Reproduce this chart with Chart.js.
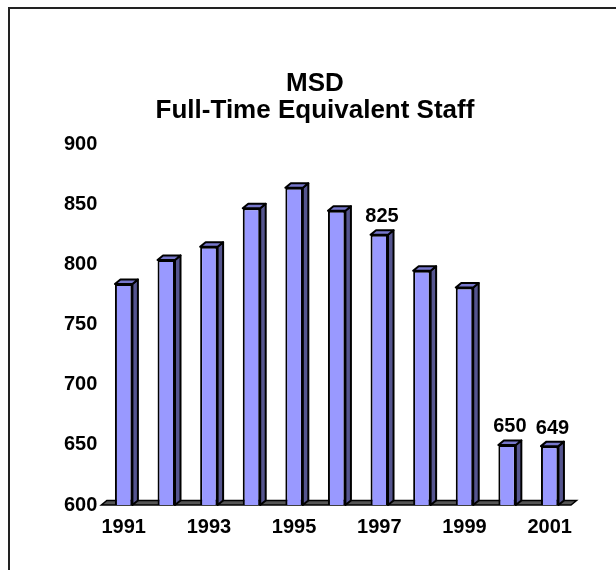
<!DOCTYPE html>
<html>
<head>
<meta charset="utf-8">
<script src="https://cdn.jsdelivr.net/npm/chart.js@4/dist/chart.umd.min.js"></script>
<style>
  html, body { margin: 0; padding: 0; background: #fff; overflow: hidden; }
  #frame {
    position: absolute; left: 8px; top: 7px;
    width: 700px; height: 700px;
    border: 2px solid #222;
  }
  #chart { position: absolute; left: 0; top: 0; }
</style>
</head>
<body>
<div id="frame"></div>
<canvas id="chart" width="616" height="570"></canvas>
<script>
// Данные графика
const years = ['1991', '1992', '1993', '1994', '1995', '1996', '1997', '1998', '1999', '2000', '2001'];
const staff = [784, 804, 815, 847, 864, 845, 825, 795, 781, 650, 649];
// подписи над столбцами (только у некоторых)
const valueLabels = [null, null, null, null, null, null, '825', null, null, '650', '649'];
const titleLines = ['MSD', 'Full-Time Equivalent Staff'];
const yMin = 600;
const yMax = 900;
const yStep = 50;

const fontFamily = "'Liberation Sans', Arial, sans-serif";
const depthX = 5.5;
const depthY = 4.5;

// Псевдо-3D: пол, боковые и верхние грани, подписи
const bar3d = {
    id: 'bar3d',
    beforeDatasetsDraw(chart) {
        const { ctx, chartArea, scales } = chart;
        const y0 = scales.y.getPixelForValue(yMin);
        const left = chartArea.left - 1;
        ctx.save();
        ctx.beginPath();
        ctx.moveTo(left, y0);
        ctx.lineTo(chartArea.right, y0);
        ctx.lineTo(chartArea.right + depthX, y0 - depthY);
        ctx.lineTo(left + depthX, y0 - depthY);
        ctx.closePath();
        ctx.fillStyle = '#555555';
        ctx.fill();
        ctx.lineWidth = 1.5;
        ctx.strokeStyle = '#000';
        ctx.stroke();
        ctx.restore();
    },
    afterDatasetsDraw(chart) {
        const { ctx, scales } = chart;
        const meta = chart.getDatasetMeta(0);
        // низ столбца = пол (значение yMin), а не ноль
        const base = scales.y.getPixelForValue(yMin);
        ctx.save();
        ctx.lineWidth = 2;
        ctx.strokeStyle = '#000';
        ctx.lineJoin = 'round';
        meta.data.forEach((bar, i) => {
            const { x, y, width } = bar.getProps(['x', 'y', 'width'], true);
            const l = x - width / 2;
            const r = x + width / 2;

            // боковая грань
            ctx.beginPath();
            ctx.moveTo(r, y);
            ctx.lineTo(r + depthX, y - depthY);
            ctx.lineTo(r + depthX, base - depthY);
            ctx.lineTo(r, base);
            ctx.closePath();
            ctx.fillStyle = '#55558f';
            ctx.fill();
            ctx.stroke();

            // верхняя грань
            ctx.beginPath();
            ctx.moveTo(l, y);
            ctx.lineTo(l + depthX, y - depthY);
            ctx.lineTo(r + depthX, y - depthY);
            ctx.lineTo(r, y);
            ctx.closePath();
            ctx.fillStyle = '#7777cc';
            ctx.fill();
            ctx.stroke();

            // подпись значения
            if (valueLabels[i]) {
                ctx.fillStyle = '#000';
                ctx.font = 'bold 20px ' + fontFamily;
                ctx.textAlign = 'center';
                ctx.textBaseline = 'alphabetic';
                ctx.fillText(valueLabels[i], x + depthX / 2, y - depthY - 8);
            }
        });
        ctx.restore();
    }
};

const ctxChart = document.getElementById('chart');

const myChart = new Chart(ctxChart, {
    type: 'bar',
    data: {
        labels: years,
        datasets: [
            {
                data: staff,
                backgroundColor: '#9999ff',
                borderColor: '#000',
                borderWidth: 2,
                borderSkipped: 'start',
                categoryPercentage: 1.0,
                barPercentage: 0.41
            }
        ]
    },
    options: {
        responsive: false,
        animation: false,
        events: [],
        layout: {
            padding: { left: 59, right: 45, top: 0, bottom: 21 }
        },
        plugins: {
            legend: { display: false },
            tooltip: { enabled: false },
            title: {
                display: true,
                text: titleLines,
                color: '#000',
                font: { family: fontFamily, size: 26, weight: 'bold', lineHeight: 1.05 },
                padding: { top: 70, bottom: 20 }
            }
        },
        scales: {
            x: {
                grid: { display: false, drawTicks: false },
                border: { display: false },
                ticks: {
                    color: '#000',
                    font: { family: fontFamily, size: 20, weight: 'bold' },
                    padding: 10,
                    autoSkip: false,
                    maxRotation: 0,
                    callback: function (val, index) {
                        return index % 2 === 0 ? years[index] : '';
                    }
                }
            },
            y: {
                min: yMin,
                max: yMax,
                grid: { display: false, drawTicks: false },
                border: { display: false },
                ticks: {
                    stepSize: yStep,
                    color: '#000',
                    font: { family: fontFamily, size: 20, weight: 'bold' },
                    padding: 5
                }
            }
        }
    },
    plugins: [bar3d]
});
</script>
</body>
</html>
